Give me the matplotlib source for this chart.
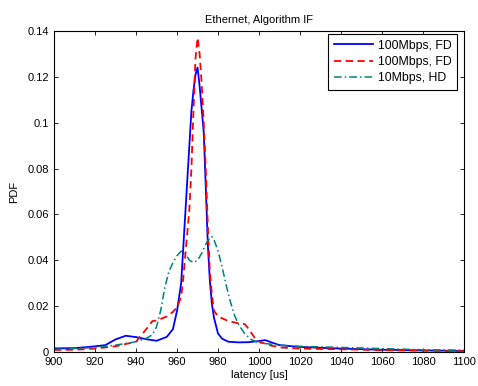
import matplotlib
matplotlib.use("Agg")
import matplotlib.pyplot as plt

plt.rcParams["font.family"] = ["Liberation Sans", "DejaVu Sans"]

# 100Mbps, FD (solid blue)
x_blue = [900, 910, 918, 925, 930, 935, 940, 945, 950, 955, 958, 960, 962, 963, 964,
          965, 966, 967, 968, 969, 970, 971, 972, 973, 974, 975, 976, 977, 978, 980,
          982, 985, 990, 995, 1000, 1003, 1006, 1010, 1020, 1040, 1060, 1080, 1100]
y_blue = [0.0016, 0.0017, 0.0023, 0.003, 0.0055, 0.0071, 0.0065, 0.0056, 0.0049, 0.0066,
          0.010, 0.018, 0.030, 0.045, 0.060, 0.075, 0.090, 0.105, 0.114, 0.121, 0.124,
          0.116, 0.106, 0.096, 0.072, 0.047, 0.031, 0.021, 0.015, 0.008, 0.0058, 0.0045,
          0.0042, 0.0043, 0.0048, 0.0052, 0.0042, 0.003, 0.0022, 0.0015, 0.001, 0.0007, 0.0005]

# 100Mbps, FD (dashed red)
x_red = [900, 910, 920, 930, 940, 945, 948, 950, 955, 958, 960, 962, 963, 964, 965,
         966, 967, 968, 969, 970, 971, 972, 973, 974, 975, 976, 977, 978, 980, 985,
         990, 993, 995, 998, 1000, 1005, 1010, 1020, 1040, 1060, 1080, 1100]
y_red = [0.0009, 0.001, 0.0015, 0.0025, 0.0045, 0.010, 0.0135, 0.0137, 0.0155, 0.0175,
         0.0195, 0.024, 0.032, 0.042, 0.052, 0.062, 0.080, 0.105, 0.128, 0.137, 0.130,
         0.117, 0.100, 0.080, 0.055, 0.035, 0.025, 0.018, 0.0155, 0.0135, 0.0125, 0.0122,
         0.010, 0.006, 0.0045, 0.003, 0.002, 0.0015, 0.0012, 0.0008, 0.0006, 0.0004]

# 10Mbps, HD (dash-dot teal)
x_teal = [900, 910, 920, 930, 940, 945, 948, 950, 952, 954, 956, 958, 960, 962, 964,
          966, 968, 970, 972, 974, 976, 977, 978, 980, 982, 984, 986, 988, 990, 993,
          996, 1000, 1010, 1020, 1040, 1060, 1080, 1100]
y_teal = [0.0012, 0.0015, 0.002, 0.003, 0.0045, 0.006, 0.0075, 0.011, 0.018, 0.028,
          0.035, 0.039, 0.042, 0.044, 0.043, 0.040, 0.039, 0.040, 0.043, 0.047, 0.050,
          0.0503, 0.049, 0.044, 0.037, 0.029, 0.022, 0.016, 0.012, 0.008, 0.0055, 0.004,
          0.003, 0.0025, 0.002, 0.0015, 0.001, 0.0008]

fig = plt.figure(figsize=(4.78, 3.86), dpi=100)
ax = fig.add_axes([0.113, 0.088, 0.858, 0.832])
ax.plot(x_blue, y_blue, color="#0000ff", lw=1.3, label="100Mbps, FD")
ax.plot(x_red, y_red, color="#ff0000", lw=1.3, ls=(0, (4, 2.5)), label="100Mbps, FD")
ax.plot(x_teal, y_teal, color="#008080", lw=1.1, ls=(0, (5, 2, 1, 2)), label="10Mbps, HD")

ax.set_xlim(900, 1100); ax.set_ylim(0, 0.14)
ax.set_xticks(range(900, 1101, 20))
ax.set_yticks([0, 0.02, 0.04, 0.06, 0.08, 0.1, 0.12, 0.14])
ax.set_yticklabels(["0", "0.02", "0.04", "0.06", "0.08", "0.1", "0.12", "0.14"])
ax.tick_params(direction="in", top=True, right=True, labelsize=8, length=3, width=0.6)
for s in ax.spines.values(): s.set_linewidth(0.8)
ax.set_title("Ethernet, Algorithm IF", fontsize=8, pad=6)
ax.set_xlabel("latency [us]", fontsize=8, labelpad=2)
ax.set_ylabel("PDF", fontsize=8, labelpad=6)
leg = ax.legend(loc="upper right", bbox_to_anchor=(0.983, 0.99), borderaxespad=0,
                fontsize=8.8, fancybox=False, framealpha=1, edgecolor="black",
                handlelength=3.2, labelspacing=0.35, borderpad=0.45, handletextpad=0.4)
leg.get_frame().set_linewidth(0.8)
fig.savefig("out.png", dpi=100)
